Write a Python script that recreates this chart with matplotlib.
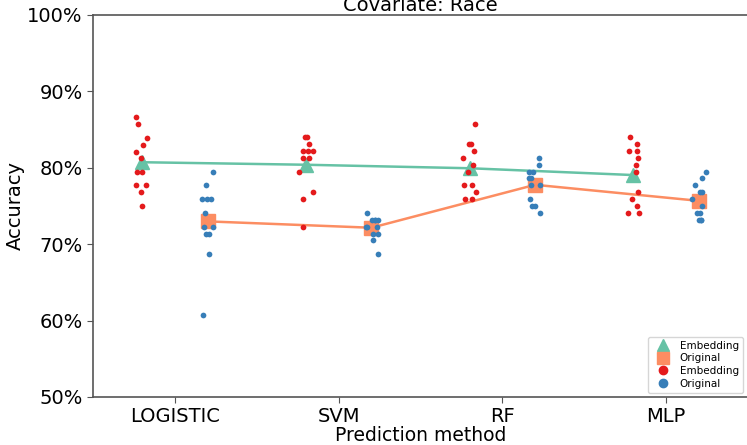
import numpy as np
import matplotlib
matplotlib.use("Agg")
import matplotlib.pyplot as plt
from matplotlib.lines import Line2D
from matplotlib.ticker import FuncFormatter

methods = ["LOGISTIC", "SVM", "RF", "MLP"]
hues = ["Embedding", "Original"]

emb_logistic = [86.6, 85.7, 83.9, 83.0, 82.1, 81.25, 79.5, 79.5, 77.7, 77.7, 76.8, 75.0]
emb_svm = [84.0, 84.0, 83.1, 82.2, 82.2, 82.2, 81.3, 81.3, 79.5, 76.8, 75.9, 72.3]
emb_rf = [85.7, 83.1, 83.1, 82.2, 81.3, 80.4, 79.5, 77.7, 77.7, 76.8, 75.9, 75.9]
emb_mlp = [84.0, 83.1, 82.2, 82.2, 81.3, 80.4, 79.5, 76.8, 75.9, 75.0, 74.1, 74.1]

orig_logistic = [79.5, 77.7, 75.9, 75.9, 75.9, 74.1, 72.3, 72.3, 71.4, 71.4, 68.75, 60.7]
orig_svm = [74.1, 73.2, 73.2, 73.2, 73.2, 72.3, 72.3, 72.3, 71.4, 71.4, 70.5, 68.75]
orig_rf = [81.3, 80.4, 79.5, 79.5, 78.6, 78.6, 77.7, 77.7, 75.9, 75.0, 75.0, 74.1]
orig_mlp = [79.5, 78.6, 77.7, 76.8, 76.8, 75.9, 75.0, 74.1, 74.1, 73.2, 73.2, 73.2]

data = {
    "Embedding": [emb_logistic, emb_svm, emb_rf, emb_mlp],
    "Original": [orig_logistic, orig_svm, orig_rf, orig_mlp],
}

line_colors = {"Embedding": "#66c2a5", "Original": "#fc8d62"}
line_markers = {"Embedding": "^", "Original": "s"}
dot_colors = {"Embedding": "#e41a1c", "Original": "#377eb8"}
offsets = {"Embedding": -0.2, "Original": 0.2}

fig = plt.figure(figsize=(7.47, 4.45), dpi=100)
ax = fig.add_axes([93 / 747, 48 / 445, 655 / 747, 382 / 445])

x = np.arange(len(methods))
rng = np.random.default_rng(3)

for h in hues:
    means = [np.mean(v) for v in data[h]]
    ax.plot(x + offsets[h], means, color=line_colors[h], lw=1.8,
            marker=line_markers[h], markersize=10, zorder=2)

for h in hues:
    for i, vals in enumerate(data[h]):
        jit = rng.uniform(-0.045, 0.045, len(vals))
        ax.scatter(np.full(len(vals), i + offsets[h]) + jit, vals, s=17,
                   color=dot_colors[h], linewidths=0, zorder=3)

ax.set_xlim(-0.5, 3.5)
ax.set_ylim(50, 100)
ax.set_xticks(x)
ax.set_xticklabels(methods)
ax.set_yticks([50, 60, 70, 80, 90, 100])
ax.yaxis.set_major_formatter(FuncFormatter(lambda v, p: f"{v:.0f}%"))
ax.tick_params(labelsize=14, color="#555555", length=4)
ax.set_xlabel("Prediction method", fontsize=13.5, labelpad=0)
ax.set_ylabel("Accuracy", fontsize=14, labelpad=1.5)
ax.set_title("Covariate: Race", fontsize=14, pad=3)
for s in ax.spines.values():
    s.set_color("#555555")
    s.set_linewidth(1.2)

handles = [
    Line2D([], [], color=line_colors["Embedding"], marker="^", ls="", markersize=9),
    Line2D([], [], color=line_colors["Original"], marker="s", ls="", markersize=9),
    Line2D([], [], color=dot_colors["Embedding"], marker="o", ls="", markersize=6),
    Line2D([], [], color=dot_colors["Original"], marker="o", ls="", markersize=6),
]
ax.legend(handles, ["Embedding", "Original", "Embedding", "Original"],
          loc="lower right", fontsize=7.5, handletextpad=0.6, borderaxespad=0.4,
          labelspacing=0.25, borderpad=0.4, bbox_to_anchor=(0.9985, 0.0))

fig.savefig("out.png", dpi=100)
